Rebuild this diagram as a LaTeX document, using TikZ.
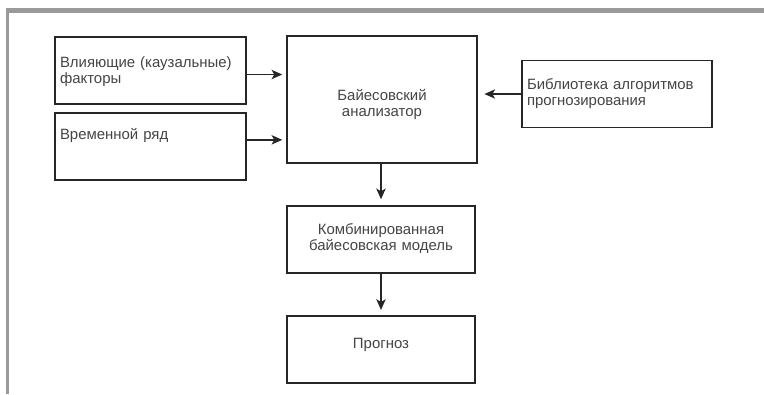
\documentclass[tikz,border=0pt]{standalone}
\usepackage{fontspec}
\setmainfont{Liberation Sans}
\usetikzlibrary{arrows.meta,positioning}
\definecolor{ramka}{HTML}{9A9A9A}
\definecolor{tekst}{HTML}{444444}

\begin{document}
\begin{tikzpicture}[x=0.75pt, y=-0.75pt,
  blok/.style={draw=black!85, line width=1.1pt, text=tekst, inner sep=0pt,
    font=\fontsize{11.2}{12}\selectfont, text height=10pt},
  blokL/.style={blok, align=left, minimum width=143.25pt, minimum height=50.25pt,
    text width=135.75pt},
  blokC/.style={blok, align=center, minimum width=142.5pt, text width=135pt},
  strel/.style={draw=black!85, line width=1.1pt, -{Stealth[length=8pt,width=7pt,inset=2pt]},
    shorten >=3pt}]
\useasboundingbox (0,0) rectangle (764,394);
% серая рамка сверху и слева
\fill[ramka] (6,8) rectangle (764,13);
\fill[ramka] (6,8) rectangle (9,394);

% входы
\node[blokL, text depth=15.2pt] (faktory) at (150.5,70.5) {Влияющие (каузальные)\\факторы};
\node[blokL, text depth=19.8pt] (ryad) at (150.5,146.5) {Временной ряд};
\node[blokC, text depth=9.2pt, minimum height=95.25pt] (analiz) at (382,99.5) {Байесовский\\анализатор};
\node[blokL, text depth=17.5pt, minimum width=142.5pt, text width=135pt] (biblio) at (617,94)
  {Библиотека алгоритмов\\прогнозирования};

% выходы
\node[blokC, text depth=16.8pt, minimum width=141pt, minimum height=50.25pt] (model) at (381,239.5)
  {Комбинированная\\байесовская модель};
\node[blokC, text depth=10.8pt, minimum width=141pt, minimum height=50.25pt] (prognoz) at (381,349.5) {Прогноз};

% стрелки
\draw[strel] ([yshift=-3pt]faktory.east) -- ([yshift=-3pt]faktory.east -| analiz.west);
\draw[strel] ([yshift=5pt]ryad.east) -- ([yshift=5pt]ryad.east -| analiz.west);
\draw[strel, shorten >=5pt] (biblio.west) -- (biblio.west -| analiz.east);
\draw[strel, shorten >=4.5pt] (analiz.south -| model.north) -- (model.north);
\draw[strel, shorten >=4pt] (model.south) -- (prognoz.north);
\end{tikzpicture}
\end{document}
